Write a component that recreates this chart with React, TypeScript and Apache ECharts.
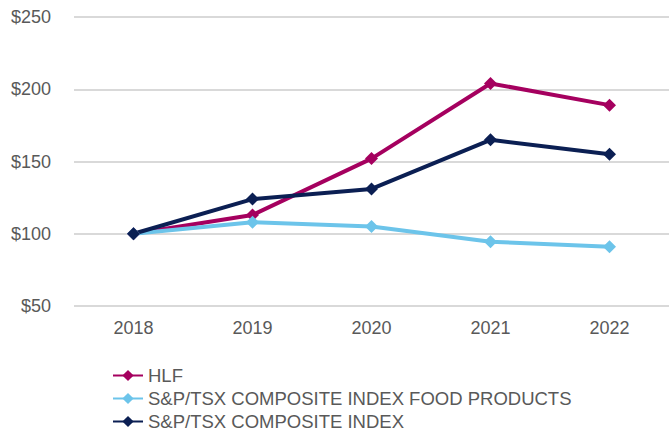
import React, { useEffect, useRef } from "react";
import * as echarts from "echarts";

const categories = ["2018", "2019", "2020", "2021", "2022"];
const hlf = [100, 113, 152, 204, 189];
const foodProducts = [100, 108, 105, 94.5, 91];
const composite = [100, 124, 131, 165, 155];
const seriesNames = [
  "HLF",
  "S&P/TSX COMPOSITE INDEX FOOD PRODUCTS",
  "S&P/TSX COMPOSITE INDEX",
];
const colors = ["#A5005F", "#6CC4EA", "#0B1F53"];

export default function App() {
  const ref = useRef<HTMLDivElement>(null);
  useEffect(() => {
    if (!ref.current) return;
    const chart = echarts.init(ref.current, null, { renderer: "svg" });
    const font = "Liberation Sans, Arial, sans-serif";
    const datasets = [hlf, foodProducts, composite];
    chart.setOption({
      animation: false,
      textStyle: { fontFamily: font },
      grid: { left: 74, right: -3, top: 17, height: 289, containLabel: false },
      legend: {
        orient: "vertical",
        left: 112,
        top: 366,
        height: 67,
        padding: 0,
        itemGap: 4,
        itemWidth: 30,
        itemHeight: 14,
        textStyle: { color: "#595959", fontSize: 18.5, fontFamily: font, padding: [0, 0, 0, 0] },
        data: seriesNames,
      },
      xAxis: {
        type: "category",
        data: categories,
        boundaryGap: true,
        axisLine: { show: false },
        axisTick: { show: false },
        axisLabel: { color: "#595959", fontSize: 18, margin: 13, fontFamily: font },
      },
      yAxis: {
        type: "value",
        min: 50,
        max: 250,
        interval: 50,
        axisLine: { show: false },
        axisTick: { show: false },
        axisLabel: {
          color: "#595959",
          fontSize: 18,
          margin: 23,
          fontFamily: font,
          formatter: (v: number) => "$" + v,
        },
        splitLine: { lineStyle: { color: "#D9D9D9", width: 2 } },
      },
      series: datasets.map((d, i) => ({
        name: seriesNames[i],
        type: "line",
        data: d,
        symbol: "diamond",
        symbolSize: 13,
        itemStyle: { color: colors[i] },
        lineStyle: { color: colors[i], width: 4 },
      })),
    });
    return () => chart.dispose();
  }, []);
  return <div ref={ref} style={{ width: 669, height: 433, position: "absolute", left: 0, top: 0 }} />;
}
